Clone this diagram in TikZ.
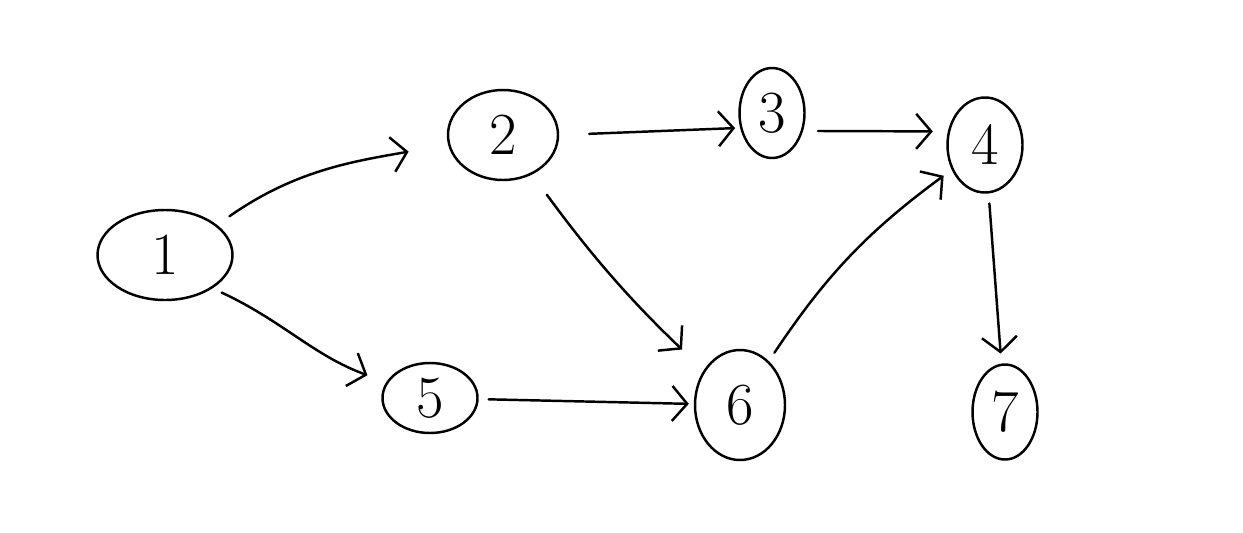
\documentclass[tikz,border=0pt]{standalone}
\usepackage{tikz}
\usetikzlibrary{shapes.geometric, arrows.meta}

\begin{document}
\begin{tikzpicture}[
    vtx/.style={ellipse, draw, line width=1.4pt, inner sep=0pt,
                font=\fontsize{34}{40}\selectfont},
    edge/.style={line width=1.4pt, line cap=round,
                 -{Straight Barb[length=3mm, width=7mm, line width=1.4pt]}}]
  \useasboundingbox (0,0) rectangle (24.86,10.64);
  % vertices
  \node[vtx, minimum width=2.7cm, minimum height=1.8cm] (n1) at (3.3,5.54) {1};
  \node[vtx, minimum width=2.2cm, minimum height=1.8cm] (n2) at (10.06,7.94) {2};
  \node[vtx, minimum width=1.3cm, minimum height=1.8cm] (n3) at (15.44,8.38) {3};
  \node[vtx, minimum width=1.5cm, minimum height=1.9cm] (n4) at (19.7,7.74) {4};
  \node[vtx, minimum width=1.9cm, minimum height=1.4cm] (n5) at (8.6,2.68) {5};
  \node[vtx, minimum width=1.8cm, minimum height=2.2cm] (n6) at (14.8,2.54) {6};
  \node[vtx, minimum width=1.3cm, minimum height=1.9cm] (n7) at (20.1,2.4) {7};
  % edges
  \draw[edge, shorten <=0.3cm, shorten >=0.8cm] (n1.30) to[out=35, in=190] (n2);
  \draw[edge, shorten <=0.2cm, shorten >=0.4cm] (n1.-35) to[out=-25, in=160] (n5);
  \draw[edge, shorten <=0.6cm, shorten >=0.1cm] (n2.east) to (n3.205);
  \draw[edge, shorten <=0.3cm, shorten >=0.3cm] (n3.-30) to (n4.160);
  \draw[edge, shorten <=0.5cm, shorten >=0.6cm] (n2) to[bend right=5] (n6);
  \draw[edge, shorten <=0.2cm, shorten >=0.1cm] (n5) to (n6);
  \draw[edge, shorten <=0.2cm, shorten >=0.2cm] (n6) to[bend left=10] (n4);
  \draw[edge, shorten <=0.2cm, shorten >=0.2cm] (n4) to (n7);
\end{tikzpicture}
\end{document}
